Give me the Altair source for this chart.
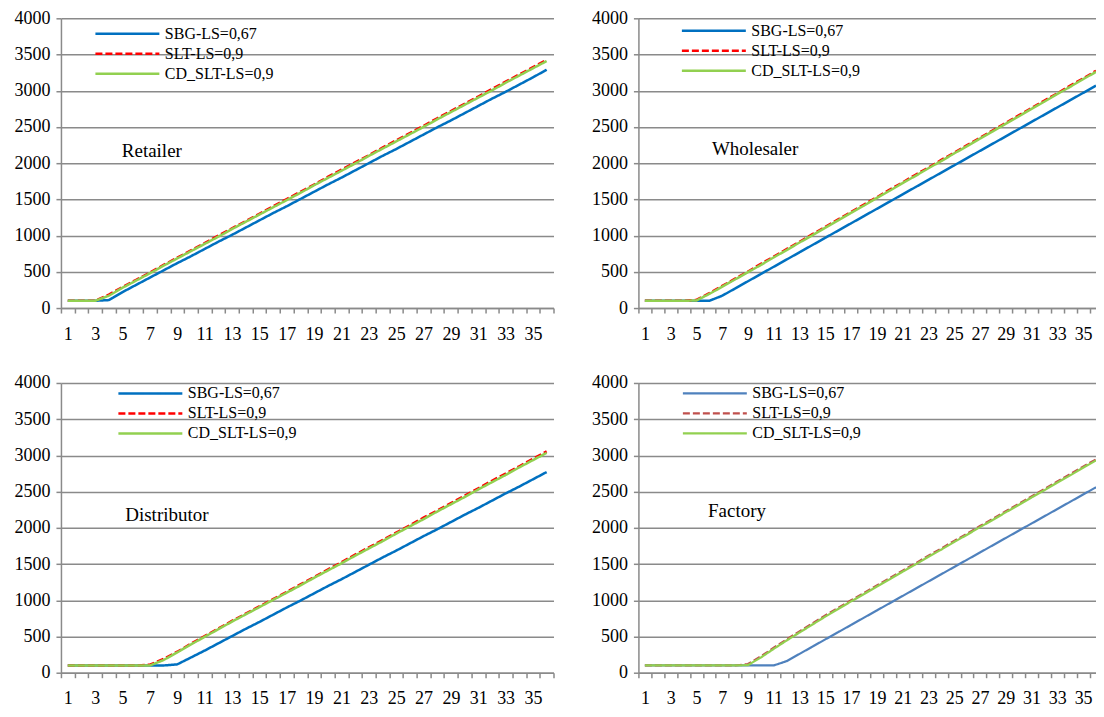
import altair as alt
import pandas as pd

periods = list(range(1, 37))
series_names = ["SBG-LS=0,67", "SLT-LS=0,9", "CD_SLT-LS=0,9"]
y_ticks = [0, 500, 1000, 1500, 2000, 2500, 3000, 3500, 4000]

# Retailer
retailer_sbg = [100, 100, 100, 110, 220, 320, 420, 520, 620, 715, 815, 915, 1010, 1110, 1210, 1310, 1405, 1505,
                1605, 1705, 1800, 1900, 2000, 2100, 2195, 2295, 2395, 2495, 2590, 2690, 2790, 2890, 2985, 3085, 3185, 3290]
retailer_slt = [100, 100, 100, 185, 290, 390, 490, 595, 695, 795, 895, 1000, 1100, 1200, 1300, 1405, 1505, 1605,
                1705, 1810, 1910, 2010, 2110, 2215, 2315, 2415, 2515, 2620, 2720, 2820, 2920, 3025, 3125, 3225, 3325, 3425]
retailer_cd = [100, 100, 100, 170, 280, 380, 480, 585, 685, 785, 885, 985, 1090, 1190, 1290, 1390, 1490, 1590,
               1695, 1795, 1895, 1995, 2100, 2200, 2300, 2400, 2500, 2605, 2705, 2805, 2905, 3005, 3110, 3210, 3310, 3410]

# Wholesaler
wholesaler_sbg = [100, 100, 100, 100, 100, 100, 170, 270, 370, 470, 570, 670, 770, 870, 970, 1070, 1170, 1270,
                  1370, 1470, 1570, 1670, 1770, 1870, 1970, 2070, 2170, 2270, 2370, 2470, 2570, 2670, 2770, 2870, 2970, 3070]
wholesaler_slt = [100, 100, 100, 100, 112, 205, 305, 405, 505, 610, 710, 815, 915, 1020, 1120, 1225, 1325, 1430,
                  1530, 1635, 1735, 1840, 1940, 2045, 2145, 2250, 2350, 2455, 2555, 2660, 2760, 2865, 2965, 3070, 3170, 3275]
wholesaler_cd = [100, 100, 100, 100, 105, 195, 295, 395, 495, 595, 700, 800, 905, 1005, 1110, 1210, 1315, 1415,
                 1520, 1620, 1725, 1825, 1930, 2030, 2135, 2235, 2340, 2440, 2545, 2645, 2750, 2850, 2955, 3055, 3160, 3260]

# Distributor
distributor_sbg = [100, 100, 100, 100, 100, 100, 100, 100, 115, 210, 305, 405, 505, 605, 700, 800, 900, 995,
                   1095, 1195, 1290, 1390, 1490, 1590, 1685, 1785, 1885, 1980, 2080, 2180, 2275, 2375, 2475, 2570, 2670, 2770]
distributor_slt = [100, 100, 100, 100, 100, 100, 110, 190, 290, 400, 505, 610, 715, 815, 915, 1015, 1115, 1220,
                   1320, 1425, 1525, 1630, 1730, 1830, 1935, 2035, 2140, 2240, 2340, 2445, 2545, 2650, 2750, 2850, 2955, 3055]
distributor_cd = [100, 100, 100, 100, 100, 100, 100, 175, 280, 390, 495, 600, 705, 805, 905, 1005, 1105, 1205,
                  1310, 1410, 1510, 1615, 1715, 1815, 1920, 2020, 2120, 2225, 2325, 2425, 2530, 2630, 2730, 2835, 2935, 3035]

# Factory
factory_sbg = [100, 100, 100, 100, 100, 100, 100, 100, 100, 100, 100, 160, 260, 360, 460, 560, 660, 760,
               860, 960, 1060, 1160, 1260, 1360, 1460, 1560, 1660, 1760, 1860, 1960, 2060, 2160, 2260, 2360, 2460, 2560]
factory_slt = [100, 100, 100, 100, 100, 100, 100, 100, 120, 225, 345, 460, 570, 680, 790, 895, 1000, 1100,
               1205, 1305, 1410, 1510, 1615, 1715, 1820, 1920, 2025, 2125, 2230, 2330, 2435, 2535, 2640, 2740, 2845, 2945]
factory_cd = [100, 100, 100, 100, 100, 100, 100, 100, 105, 210, 330, 445, 555, 665, 775, 880, 985, 1085,
              1190, 1290, 1395, 1495, 1600, 1700, 1805, 1905, 2010, 2110, 2215, 2315, 2420, 2520, 2625, 2725, 2830, 2930]

FONT = "Liberation Serif"
GRAY = "#8a8a8a"


def panel(name, sbg, slt, cd, colors, width, height, x_max, leg_x, leg_y, name_x, name_y, stroke_w=2.5):
    rows = []
    for s, vals in zip(series_names, [sbg, slt, cd]):
        for p, v in zip(periods, vals):
            rows.append({"period": p, "value": v, "series": s})
    df = pd.DataFrame(rows)

    unit = width / (x_max - 0.5)
    tick_vals = [k + 0.5 for k in range(0, 37) if k + 0.5 <= x_max + 1e-9]

    x_scale = alt.Scale(domain=[0.5, x_max], nice=False, zero=False)
    y_scale = alt.Scale(domain=[0, 4000], nice=False)
    x_axis = alt.Axis(
        values=tick_vals, title=None, grid=False, tickSize=5, labelPadding=12,
        labelOffset=unit / 2, labelOverlap=False, labelFlush=False,
        labelFont=FONT, labelFontSize=18, labelColor="black",
        labelExpr="(datum.value + 0.5) % 2 == 1 && datum.value < 35.6 ? format(datum.value + 0.5, 'd') : ''",
    )
    y_axis = alt.Axis(
        values=y_ticks, title=None, grid=True, tickSize=5, labelPadding=6, format="d",
        labelFont=FONT, labelFontSize=18, labelColor="black", labelOverlap=False,
    )
    leg = alt.Legend(
        orient="none", legendX=leg_x, legendY=leg_y, title=None,
        symbolType="M-4,0H4", symbolSize=256, symbolStrokeWidth=stroke_w,
        labelFont=FONT, labelFontSize=16, labelColor="black", labelOffset=28,
        rowPadding=2, padding=0, labelLimit=400, direction="vertical",
    )
    lines = alt.Chart(df).mark_line(strokeWidth=stroke_w, clip=True).encode(
        x=alt.X("period:Q", scale=x_scale, axis=x_axis),
        y=alt.Y("value:Q", scale=y_scale, axis=y_axis),
        color=alt.Color("series:N", scale=alt.Scale(domain=series_names, range=colors), legend=leg),
        strokeDash=alt.StrokeDash("series:N", scale=alt.Scale(domain=series_names, range=[[1, 0], [7, 3], [1, 0]]),
                                  legend=leg),
    )
    label = alt.Chart(pd.DataFrame({"name": [name]})).mark_text(
        font=FONT, fontSize=19, align="left", baseline="middle", color="black"
    ).encode(
        x=alt.XDatum(name_x, type="quantitative", scale=x_scale, axis=x_axis),
        y=alt.YDatum(name_y, type="quantitative", scale=y_scale, axis=y_axis),
        text="name:N",
    )
    return alt.layer(lines, label).properties(width=width, height=height).resolve_scale(
        color="independent", strokeDash="independent")


std_colors = ["#0070C0", "#FF0000", "#92D050"]
fac_colors = ["#4F81BD", "#C0504D", "#92D050"]

W1, W2, H = 493, 458, 290

p1 = panel("Retailer", retailer_sbg, retailer_slt, retailer_cd, std_colors, W1, H, 36.5, 57, 6, 4.95, 2170)
p2 = panel("Wholesaler", wholesaler_sbg, wholesaler_slt, wholesaler_cd, std_colors, W2, H, 36.0, 66, 3, 6.2, 2190)
p3 = panel("Distributor", distributor_sbg, distributor_slt, distributor_cd, std_colors, W1, H, 36.5, 80, 1, 5.2, 2176)
p4 = panel("Factory", factory_sbg, factory_slt, factory_cd, fac_colors, W2, H, 36.0, 67, 1, 5.9, 2230, stroke_w=2.2)

top = alt.hconcat(p1, p2, spacing=31).resolve_scale(color="independent", strokeDash="independent").resolve_legend(
    color="independent", strokeDash="independent")
bottom = alt.hconcat(p3, p4, spacing=31).resolve_scale(color="independent", strokeDash="independent").resolve_legend(
    color="independent", strokeDash="independent")

chart = alt.vconcat(top, bottom, spacing=31).resolve_scale(
    color="independent", strokeDash="independent").resolve_legend(
    color="independent", strokeDash="independent").properties(
    padding={"left": 6, "top": 1, "right": 0, "bottom": 0},
    background="white",
).configure_view(stroke=None).configure_axis(
    labelFont=FONT, labelFontSize=18, labelColor="black",
    domainColor=GRAY, tickColor=GRAY, gridColor=GRAY,
    domainWidth=1.5, tickWidth=1.5, gridWidth=1.5,
)

chart.save("out.html", embed_options={"renderer": "svg", "actions": False})
